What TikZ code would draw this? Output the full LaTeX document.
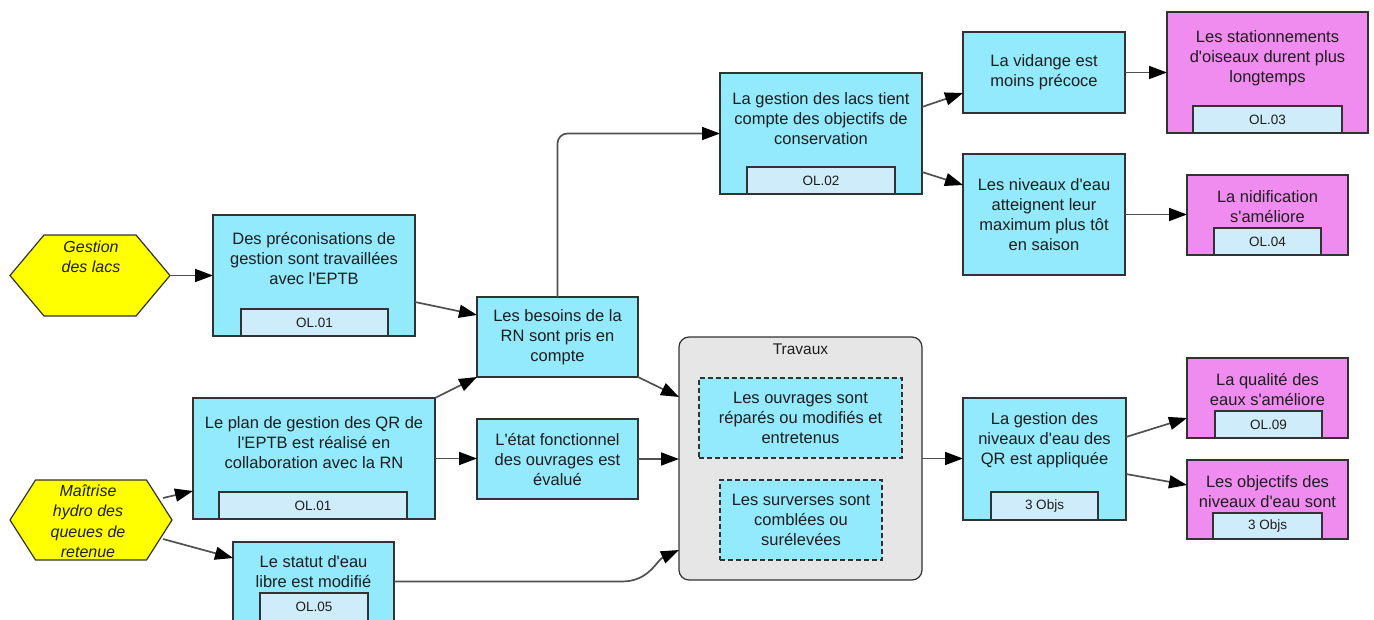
\documentclass[tikz,border=0pt]{standalone}
\usepackage{fontspec}
\setmainfont{Liberation Sans}[Ligatures=TeXOff]
\usetikzlibrary{arrows.meta,calc,shapes.symbols}
\definecolor{ccyan}{RGB}{146,234,252}
\definecolor{csub}{RGB}{206,236,250}
\definecolor{cpink}{RGB}{240,140,240}
\definecolor{cgray}{RGB}{230,230,230}
\definecolor{cyellow}{RGB}{255,255,0}
\definecolor{cbord}{RGB}{50,50,50}
\definecolor{cline}{RGB}{80,80,80}
\definecolor{ctext}{RGB}{30,30,30}
\tikzset{
 box/.style={draw=cbord, line width=1.2pt, inner sep=0pt, outer sep=0pt},
 cyanbox/.style={box, fill=ccyan},
 pinkbox/.style={box, fill=cpink},
 subbox/.style={box, fill=csub, font=\fontsize{13.5}{16}\selectfont, text=ctext},
 txt/.style={align=center, font=\fontsize{16.5}{20}\selectfont, text=ctext, inner sep=0pt},
 hextxt/.style={align=center, font=\fontsize{16}{20.5}\selectfont\itshape, text=ctext, inner sep=0pt},
 dbox/.style={box, fill=ccyan, dash pattern=on 5pt off 3pt},
 arr/.style={draw=cline, line width=1.7pt, -{Triangle[length=18pt,width=13pt,color=black]}},
 hexa/.style={draw=cbord, line width=1.2pt, fill=cyellow, shape=signal, signal to=east and west, inner sep=0pt, outer sep=0pt},
}
\begin{document}
\begin{tikzpicture}[x=1pt,y=-1pt]
\useasboundingbox (0,0) rectangle (1374,619);
% hexagons
\node[hexa, minimum width=160pt, minimum height=81pt, signal pointer angle=100] (H1) at (90,275.5) {};
\node[hextxt] (H1t) at (91,257) {Gestion\\des lacs};
\node[hexa, minimum width=162pt, minimum height=80pt, signal pointer angle=115] (H2) at (91,520) {};
\node[hextxt] (H2t) at (88,521) {Maîtrise\\hydro des\\queues de\\retenue};
% A
\node[cyanbox, minimum width=202pt, minimum height=121pt] (A) at (314,275.5) {};
\node[subbox, minimum width=147pt, minimum height=27pt] (As) at (314.5,322.5) {OL.01};
\node[txt] (At) at (314,258) {Des préconisations de\\gestion sont travaillées\\avec l'EPTB};
% B
\node[cyanbox, minimum width=242pt, minimum height=121pt] (B) at (314,458.5) {};
\node[subbox, minimum width=188pt, minimum height=27pt] (Bs) at (313,505.5) {OL.01};
\node[txt] (Bt) at (314,443) {Le plan de gestion des QR de\\l'EPTB est réalisé en\\collaboration avec la RN};
% C
\node[cyanbox, minimum width=161pt, minimum height=79pt] (C) at (313.5,581.5) {};
\node[subbox, minimum width=108pt, minimum height=28pt] (Cs) at (314,607) {OL.05};
\node[txt] (Ct) at (313.5,572) {Le statut d'eau\\libre est modifié};
% D, E
\node[cyanbox, minimum width=161pt, minimum height=80pt, txt] (D) at (557.5,337) {Les besoins de la\\RN sont pris en\\compte};
\node[cyanbox, minimum width=161pt, minimum height=80pt, txt] (E) at (557.5,459) {L'état fonctionnel\\des ouvrages est\\évalué};
% Travaux
\node[box, fill=cgray, rounded corners=10pt, minimum width=243pt, minimum height=243pt] (Tr) at (800.5,458.5) {};
\node[txt, font=\fontsize{15.5}{18}\selectfont] (Trt) at (800.5,349) {Travaux};
\node[dbox, txt, minimum width=203pt, minimum height=80pt] (T1) at (800.5,418) {Les ouvrages sont\\réparés ou modifiés et\\entretenus};
\node[dbox, txt, minimum width=162pt, minimum height=80pt] (T2) at (801,520) {Les surverses sont\\comblées ou\\surélevées};
% F
\node[cyanbox, minimum width=202pt, minimum height=121pt] (F) at (821,133.5) {};
\node[subbox, minimum width=148pt, minimum height=27pt] (Fs) at (821,180.5) {OL.02};
\node[txt] (Ft) at (821,119) {La gestion des lacs tient\\compte des objectifs de\\conservation};
% G, H
\node[cyanbox, txt, minimum width=162pt, minimum height=81pt] (G) at (1044,72.5) {La vidange est\\moins précoce};
\node[cyanbox, txt, minimum width=162pt, minimum height=121pt] (H) at (1044,214.5) {Les niveaux d'eau\\atteignent leur\\maximum plus tôt\\en saison};
% I, J
\node[pinkbox, minimum width=201pt, minimum height=121pt] (I) at (1267.5,72.5) {};
\node[subbox, minimum width=149pt, minimum height=27pt] (Is) at (1267.5,119.5) {OL.03};
\node[txt] (It) at (1267.5,58) {Les stationnements\\d'oiseaux durent plus\\longtemps};
\node[pinkbox, minimum width=161pt, minimum height=80pt] (J) at (1267.5,215) {};
\node[subbox, minimum width=107pt, minimum height=27pt] (Js) at (1267.5,241.5) {OL.04};
\node[txt] (Jt) at (1267.5,207) {La nidification\\s'améliore};
% K
\node[cyanbox, minimum width=163pt, minimum height=122pt] (K) at (1044.5,459) {};
\node[subbox, minimum width=107pt, minimum height=28pt] (Ks) at (1044.5,506) {3 Objs};
\node[txt] (Kt) at (1044.5,440) {La gestion des\\niveaux d'eau des\\QR est appliquée};
% L, M
\node[pinkbox, minimum width=161pt, minimum height=80pt] (L) at (1267.5,398) {};
\node[subbox, minimum width=107pt, minimum height=27pt] (Ls) at (1268.5,424.5) {OL.09};
\node[txt] (Lt) at (1267.5,389) {La qualité des\\eaux s'améliore};
\node[pinkbox, minimum width=161pt, minimum height=79pt] (M) at (1267.5,499.5) {};
\node[subbox, minimum width=109pt, minimum height=26pt] (Ms) at (1267.5,526) {3 Objs};
\node[txt] (Mt) at (1267.5,491.5) {Les objectifs des\\niveaux d'eau sont};
% connectors
\draw[arr] (H1.east) -- (H1.east -| A.west);
\draw[arr] ($(A.south east)+(0,-34)$) -- ($(D.north west)+(0,18)$);
\draw[arr] (B.north east) -- (D.south west);
\draw[arr] (B.east) -- (B.east -| E.west);
\draw[arr] ($(H2.east)+(-9,-22)$) -- ($(B.south west)+(0,-28)$);
\draw[arr] ($(H2.east)+(-9,19)$) -- ($(C.north west)+(0,16)$);
\draw[arr] (C.east) -- ($(C.east)+(228,0)$) .. controls ($(C.east)+(255,0)$) and ($(Tr.south west)+(-22,-20)$) .. ($(Tr.south west)+(0,-30)$);
\draw[arr] (D.south east) -- ($(Tr.north west)+(0,60)$);
\draw[arr] (E.east) -- (E.east -| Tr.west);
\draw[arr] (Tr.east) -- (Tr.east -| K.west);
\draw[arr, rounded corners=10pt] (D.north) |- (F.west);
\draw[arr] ($(F.north east)+(0,34)$) -- ($(G.south west)+(0,-20)$);
\draw[arr] ($(F.south east)+(0,-22)$) -- ($(H.north west)+(0,31)$);
\draw[arr] (G.east) -- (G.east -| I.west);
\draw[arr] (H.east) -- (H.east -| J.west);
\draw[arr] ($(K.north east)+(0,39)$) -- ($(L.south west)+(0,-20)$);
\draw[arr] ($(K.north east)+(0,76)$) -- ($(M.north west)+(0,25)$);
\end{tikzpicture}
\end{document}
